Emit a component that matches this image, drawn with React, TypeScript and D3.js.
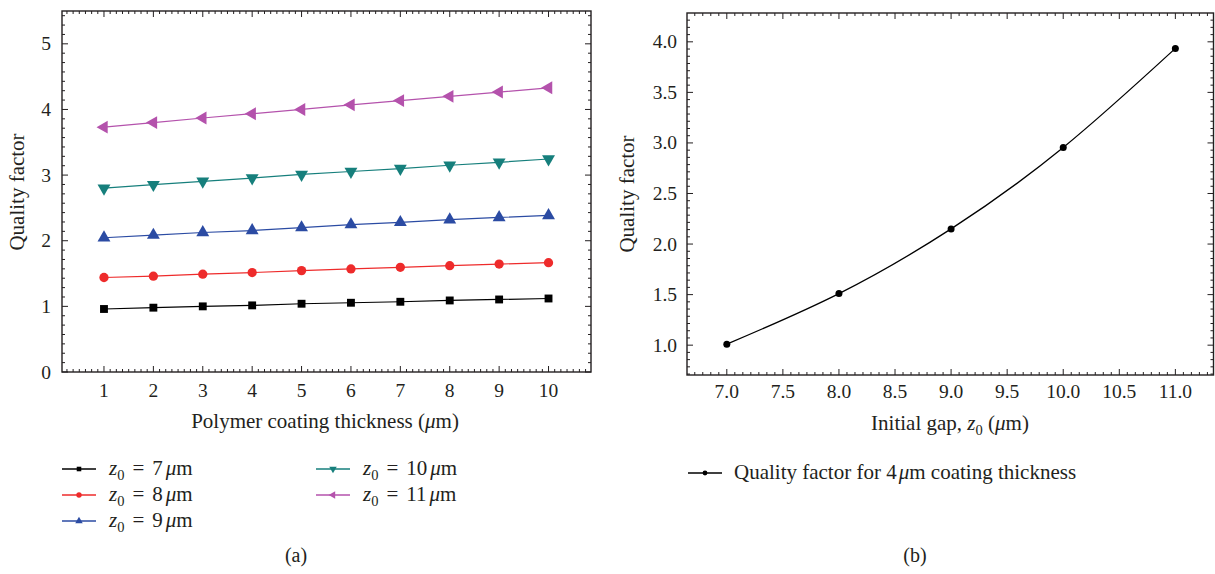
import React from 'react';
import * as d3 from 'd3';

// Panel (a): quality factor vs polymer coating thickness, one series per initial gap
const thickness = [1, 2, 3, 4, 5, 6, 7, 8, 9, 10];
const qz7 = [0.96, 0.98, 1.0, 1.015, 1.04, 1.055, 1.07, 1.09, 1.105, 1.12];
const qz8 = [1.44, 1.46, 1.49, 1.515, 1.545, 1.57, 1.595, 1.62, 1.645, 1.665];
const qz9 = [2.045, 2.085, 2.125, 2.155, 2.2, 2.245, 2.28, 2.32, 2.355, 2.385];
const qz10 = [2.8, 2.855, 2.905, 2.955, 3.01, 3.055, 3.1, 3.15, 3.195, 3.245];
const qz11 = [3.73, 3.8, 3.87, 3.935, 4.0, 4.07, 4.135, 4.2, 4.265, 4.33];
const gapLabels = ['7', '8', '9', '10', '11'];
const thicknessTicks = [1, 2, 3, 4, 5, 6, 7, 8, 9, 10];
const qTicksA = [0, 1, 2, 3, 4, 5];

// Panel (b): quality factor vs initial gap at 4 µm coating
const gaps = [7, 8, 9, 10, 11];
const qGap = [1.01, 1.51, 2.15, 2.955, 3.935];
const gapTicks = [7.0, 7.5, 8.0, 8.5, 9.0, 9.5, 10.0, 10.5, 11.0];
const qTicksB = [1.0, 1.5, 2.0, 2.5, 3.0, 3.5, 4.0];

const FONT = '"Liberation Serif", "DejaVu Serif", serif';
const INK = '#231f20';

type Shape = 'square' | 'circle' | 'up' | 'down' | 'left';
const seriesA: { values: number[]; color: string; shape: Shape }[] = [
  { values: qz7, color: '#000000', shape: 'square' },
  { values: qz8, color: '#ee2b2b', shape: 'circle' },
  { values: qz9, color: '#2b4ba3', shape: 'up' },
  { values: qz10, color: '#167f7c', shape: 'down' },
  { values: qz11, color: '#b452ac', shape: 'left' },
];

function markerPath(shape: Shape, scale: number) {
  const type = shape === 'square' ? d3.symbolSquare : shape === 'circle' ? d3.symbolCircle : d3.symbolTriangle;
  const base = shape === 'square' ? 62 : shape === 'circle' ? 68 : 72;
  return d3.symbol().type(type).size(base * scale * scale)() as string;
}
function markerRotation(shape: Shape) {
  return shape === 'down' ? 180 : shape === 'left' ? -90 : 0;
}

function minorValues(d0: number, d1: number, step: number) {
  const out: number[] = [];
  const i0 = Math.ceil(d0 / step - 1e-9);
  const i1 = Math.floor(d1 / step + 1e-9);
  for (let i = i0; i <= i1; i++) out.push(i * step);
  return out;
}

function Frame({
  x, y, xMajor, yMajor, xMinorStep, yMinorStep,
}: {
  x: d3.ScaleLinear<number, number>;
  y: d3.ScaleLinear<number, number>;
  xMajor: number[];
  yMajor: number[];
  xMinorStep: number;
  yMinorStep: number;
}) {
  const [xl, xr] = x.range();
  const [yb, yt] = y.range();
  const [xd0, xd1] = x.domain();
  const [yd0, yd1] = y.domain();
  const xMin = minorValues(xd0, xd1, xMinorStep);
  const yMin = minorValues(yd0, yd1, yMinorStep);
  const MAJ = 6;
  const MIN = 3;
  const isMajor = (v: number, majors: number[]) => majors.some((m) => Math.abs(m - v) < 1e-6);
  return (
    <g stroke={INK} fill="none">
      {xMin.map((v, i) => {
        const len = isMajor(v, xMajor) ? MAJ : MIN;
        const px = x(v);
        return (
          <g key={'x' + i} strokeWidth={1}>
            <line x1={px} x2={px} y1={yb} y2={yb - len} />
            <line x1={px} x2={px} y1={yt} y2={yt + len} />
          </g>
        );
      })}
      {yMin.map((v, i) => {
        const len = isMajor(v, yMajor) ? MAJ : MIN;
        const py = y(v);
        return (
          <g key={'y' + i} strokeWidth={1}>
            <line x1={xl} x2={xl + len} y1={py} y2={py} />
            <line x1={xr} x2={xr - len} y1={py} y2={py} />
          </g>
        );
      })}
      <rect x={xl} y={yt} width={xr - xl} height={yb - yt} strokeWidth={1.4} />
    </g>
  );
}

export default function App() {
  // ---------- panel (a) ----------
  const xA = d3.scaleLinear().domain([0.15, 10.86]).range([62, 591]);
  const yA = d3.scaleLinear().domain([0, 5.5]).range([372, 11]);
  const lineA = d3
    .line<number>()
    .x((_, i) => xA(thickness[i]))
    .y((d) => yA(d));

  // ---------- panel (b) ----------
  const xB = d3.scaleLinear().domain([6.645, 11.34]).range([687, 1213.5]);
  const yB = d3.scaleLinear().domain([0.705, 4.285]).range([375, 13]);
  const lineB = d3
    .line<number>()
    .x((_, i) => xB(gaps[i]))
    .y((d) => yB(d))
    .curve(d3.curveNatural);

  const legendRows = [
    { x: 62, y: 469 },
    { x: 62, y: 495 },
    { x: 62, y: 521 },
    { x: 316, y: 469 },
    { x: 316, y: 495 },
  ];

  return (
    <svg
      width={1215}
      height={574}
      style={{ position: 'absolute', left: 0, top: 0, background: '#fff' }}
      fontFamily={FONT}
    >
      <rect width={1215} height={574} fill="#fff" />

      {/* panel (a) */}
      <Frame x={xA} y={yA} xMajor={thicknessTicks} yMajor={qTicksA} xMinorStep={1 / 8} yMinorStep={1 / 7} />
      {seriesA.map((s, k) => (
        <g key={k}>
          <path d={lineA(s.values) as string} fill="none" stroke={s.color} strokeWidth={1.2} />
          {s.values.map((v, i) => (
            <path
              key={i}
              d={markerPath(s.shape, 1)}
              fill={s.color}
              transform={`translate(${xA(thickness[i])},${yA(v)}) rotate(${markerRotation(s.shape)})`}
            />
          ))}
        </g>
      ))}
      <g fontSize={19.5} fill={INK}>
        {thicknessTicks.map((t) => (
          <text key={t} x={xA(t)} y={397} textAnchor="middle">
            {t}
          </text>
        ))}
        {qTicksA.map((t) => (
          <text key={t} x={51} y={yA(t) + 6.5} textAnchor="end">
            {t}
          </text>
        ))}
      </g>
      <text x={325} y={428} textAnchor="middle" fontSize={21} fill={INK}>
        Polymer coating thickness (<tspan fontStyle="italic">μ</tspan>m)
      </text>
      <text
        transform="translate(24,192) rotate(-90)"
        textAnchor="middle"
        fontSize={21}
        fill={INK}
      >
        Quality factor
      </text>

      {/* legend (a) */}
      {seriesA.map((s, k) => {
        const r = legendRows[k];
        return (
          <g key={k}>
            <line x1={r.x} x2={r.x + 34} y1={r.y} y2={r.y} stroke={s.color} strokeWidth={1.3} />
            <path
              d={markerPath(s.shape, 0.58)}
              fill={s.color}
              transform={`translate(${r.x + 17},${r.y}) rotate(${markerRotation(s.shape)})`}
            />
            <text x={r.x + 47} y={r.y + 6} fontSize={21} fill={INK}>
              <tspan fontStyle="italic">z</tspan>
              <tspan fontSize={14.5} dy={5}>0</tspan>
              <tspan dy={-5} dx={8}>=</tspan>
              <tspan dx={8}>{gapLabels[k]}</tspan>
              <tspan dx={3} fontStyle="italic">μ</tspan>
              <tspan>m</tspan>
            </text>
          </g>
        );
      })}
      <text x={296} y={562} textAnchor="middle" fontSize={20} fill={INK}>
        (a)
      </text>

      {/* panel (b) */}
      <Frame x={xB} y={yB} xMajor={gapTicks} yMajor={qTicksB} xMinorStep={0.5 / 7} yMinorStep={0.5 / 7} />
      <path d={lineB(qGap) as string} fill="none" stroke="#000" strokeWidth={1.3} />
      {qGap.map((v, i) => (
        <circle key={i} cx={xB(gaps[i])} cy={yB(v)} r={3.5} fill="#000" />
      ))}
      <g fontSize={19.5} fill={INK}>
        {gapTicks.map((t) => (
          <text key={t} x={xB(t)} y={398} textAnchor="middle">
            {t.toFixed(1)}
          </text>
        ))}
        {qTicksB.map((t) => (
          <text key={t} x={677} y={yB(t) + 6.5} textAnchor="end">
            {t.toFixed(1)}
          </text>
        ))}
      </g>
      <text x={950} y={430} textAnchor="middle" fontSize={21} fill={INK}>
        Initial gap, <tspan fontStyle="italic">z</tspan>
        <tspan fontSize={14.5} dy={5}>0</tspan>
        <tspan dy={-5}> (</tspan>
        <tspan fontStyle="italic">μ</tspan>m)
      </text>
      <text
        transform="translate(634,194) rotate(-90)"
        textAnchor="middle"
        fontSize={21}
        fill={INK}
      >
        Quality factor
      </text>

      {/* legend (b) */}
      <line x1={688} x2={722} y1={473} y2={473} stroke="#000" strokeWidth={1.3} />
      <circle cx={705} cy={473} r={2.4} fill="#000" />
      <text x={734} y={479} fontSize={21} fill={INK}>
        Quality factor for 4<tspan dx={2} fontStyle="italic">μ</tspan>m coating thickness
      </text>
      <text x={915} y={562} textAnchor="middle" fontSize={20} fill={INK}>
        (b)
      </text>
    </svg>
  );
}
